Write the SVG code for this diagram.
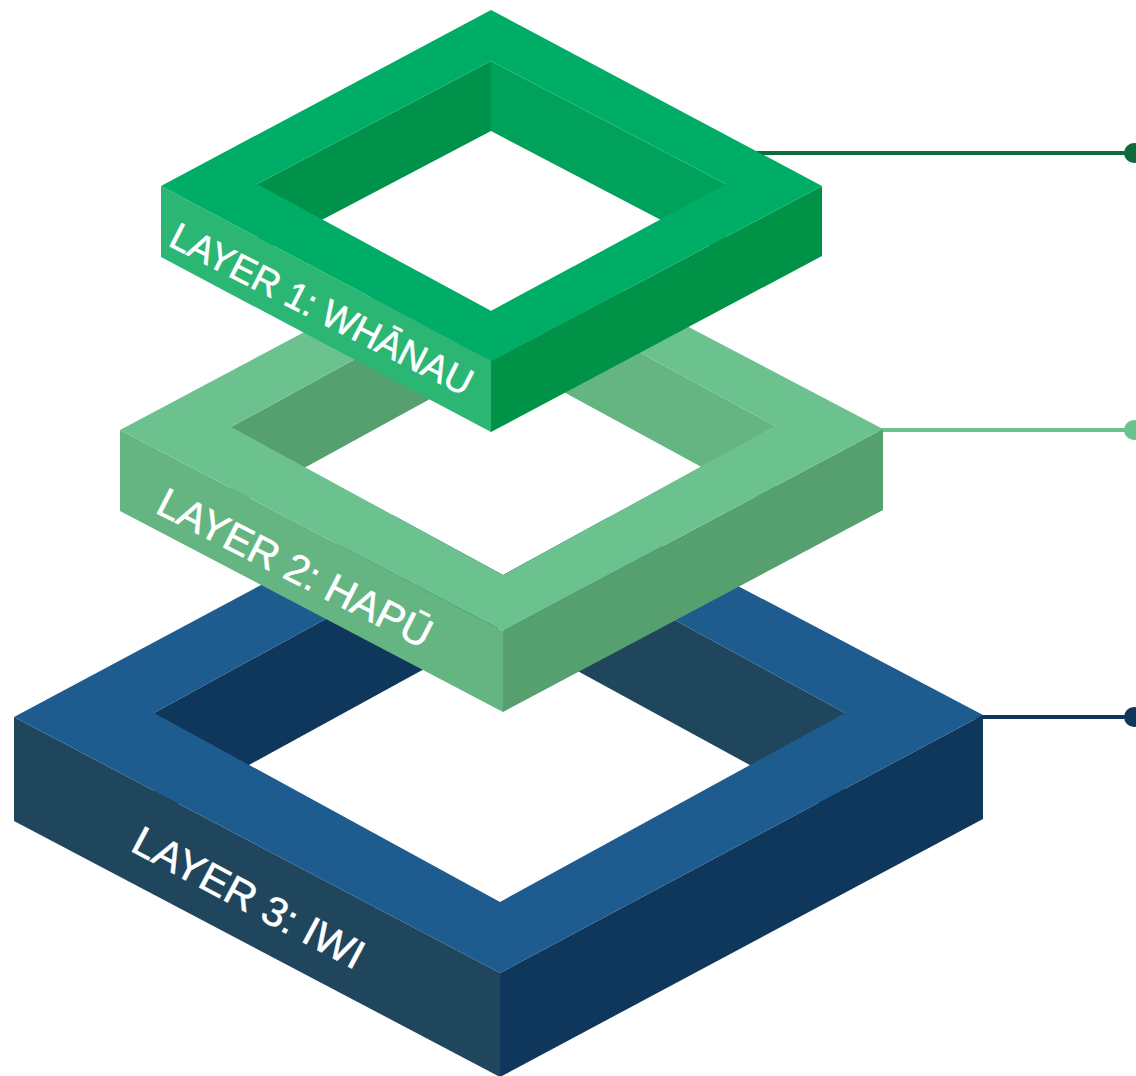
<svg xmlns="http://www.w3.org/2000/svg" width="1136" height="1076" viewBox="0 0 1136 1076">
  <style>
    .floor { fill: #ffffff; }
    .label { font-family: "Liberation Sans", Arial, sans-serif; fill: #ffffff; stroke: #ffffff; stroke-width: 0.6; }
    .lead { fill: none; stroke-width: 4; }
  </style>
  <rect width="1136" height="1076" fill="#ffffff"/>

  <!-- leader lines running out to the right edge -->
  <g id="connectors">
    <g id="lead-whanau">
      <line class="lead" x1="745" y1="153" x2="1134" y2="153" stroke="#0f6b3a"/>
      <circle cx="1134" cy="153" r="10" fill="#0f6b3a"/>
    </g>
    <g id="lead-hapu">
      <line class="lead" x1="870" y1="430" x2="1134" y2="430" stroke="#6cc28f"/>
      <circle cx="1134" cy="430" r="10" fill="#6cc28f"/>
    </g>
    <g id="lead-iwi">
      <line class="lead" x1="970" y1="717" x2="1134" y2="717" stroke="#0f375b"/>
      <circle cx="1134" cy="717" r="10" fill="#0f375b"/>
    </g>
  </g>

  <!-- Layer 3: iwi (bottom frame) -->
  <g id="layer-iwi">
    <polygon class="floor" points="154,713 499,524 845,713 500,902"/>
    <polygon fill="#0f375b" points="154,713 499,524 499,628 154,817"/>
    <polygon fill="#20465e" points="499,524 845,713 845,817 499,628"/>
    <polygon fill="#20465e" points="14,717 500,973 500,1077 14,821"/>
    <polygon fill="#0f375b" points="500,973 983,715 983,819 500,1077"/>
    <path fill="#1e5b8e" fill-rule="evenodd" d="M14,717 L497,459 L983,715 L500,973 Z M154,713 L499,524 L845,713 L500,902 Z"/>
    <text class="label" font-size="41" textLength="256" lengthAdjust="spacingAndGlyphs" transform="translate(129,850) rotate(28)">LAYER 3: IWI</text>
  </g>

  <!-- Layer 2: hapū (middle frame) -->
  <g id="layer-hapu">
    <polygon class="floor" points="231,427 503,278 775,426 503,575"/>
    <polygon fill="#56a06f" points="231,427 503,278 503,359 231,508"/>
    <polygon fill="#64b581" points="503,278 775,426 775,507 503,359"/>
    <polygon fill="#64b581" points="120,430 503,631 503,712 120,511"/>
    <polygon fill="#56a06f" points="503,631 883,429 883,510 503,712"/>
    <path fill="#6cc28f" fill-rule="evenodd" d="M120,430 L500,228 L883,429 L503,631 Z M231,427 L503,278 L775,426 L503,575 Z"/>
    <text class="label" font-size="41" textLength="302" lengthAdjust="spacingAndGlyphs" transform="translate(154,512) rotate(27)">LAYER 2: HAPŪ</text>
  </g>

  <!-- Layer 1: whānau (top frame) -->
  <g id="layer-whanau">
    <polygon class="floor" points="257,184 491,61 726,184 491,311"/>
    <polygon fill="#00924a" points="257,184 491,61 491,131 257,254"/>
    <polygon fill="#00a15a" points="491,61 726,184 726,254 491,131"/>
    <polygon fill="#2bb673" points="161,186 491,361 491,432 161,257"/>
    <polygon fill="#009247" points="491,361 822,186 822,256 491,432"/>
    <path fill="#00ad66" fill-rule="evenodd" d="M161,186 L491,10 L822,186 L491,361 Z M257,184 L491,61 L726,184 L491,311 Z"/>
    <text class="label" font-size="38" textLength="334" lengthAdjust="spacingAndGlyphs" transform="translate(167,245) rotate(27)">LAYER 1: WHĀNAU</text>
  </g>
</svg>
